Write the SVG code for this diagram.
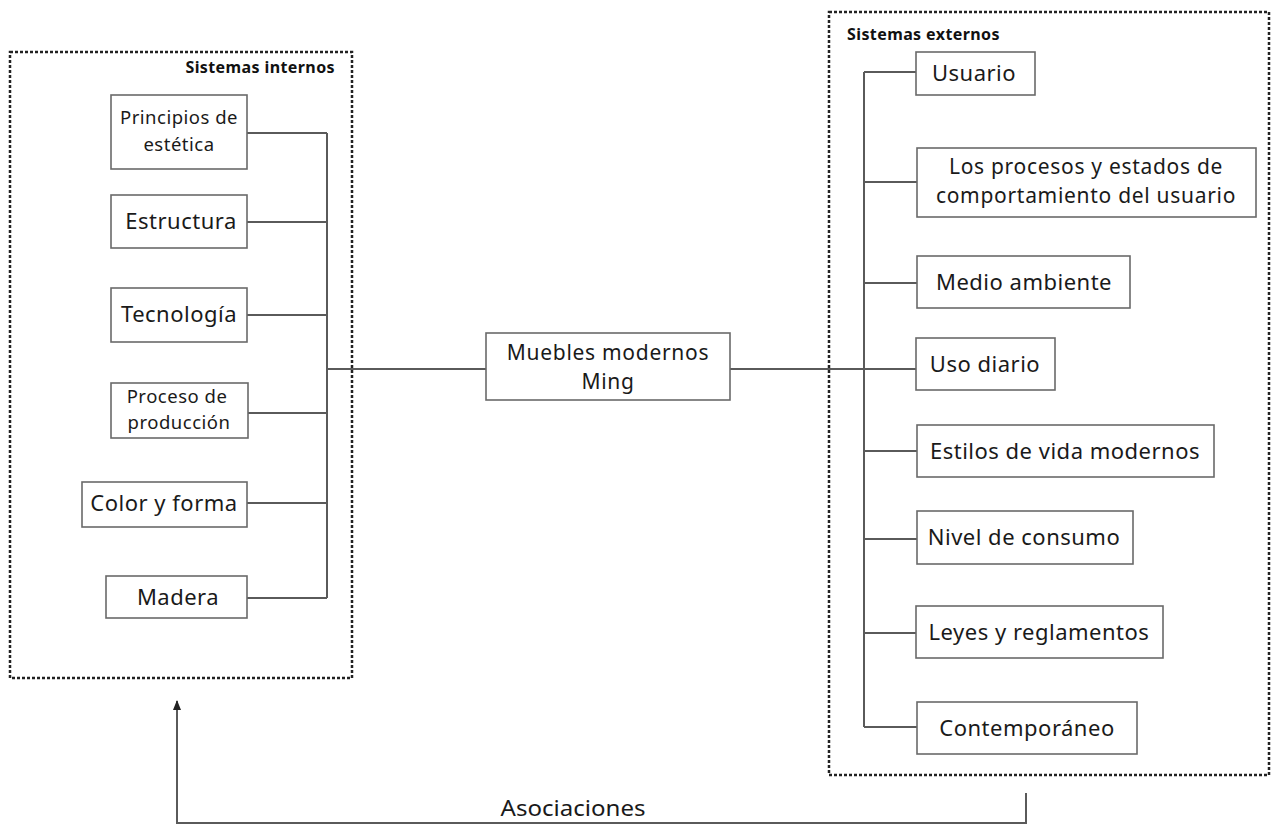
<svg xmlns="http://www.w3.org/2000/svg" width="1274" height="825" viewBox="0 0 1274 825">
<style>
.frame{fill:none;stroke:#222;stroke-width:2.5;stroke-dasharray:3 2}
.box{fill:#fff;stroke:#6a6a6a;stroke-width:1.6}
.ln{fill:none;stroke:#5a5a5a;stroke-width:2}
.t{font-family:"Noto Sans","Open Sans",sans-serif;font-size:22px;fill:#1a1a1a;text-anchor:middle;letter-spacing:0.5px}
.t2{font-family:"Noto Sans","Open Sans",sans-serif;font-size:21px;fill:#1a1a1a;text-anchor:middle;letter-spacing:0.7px}
.ts{font-family:"Noto Sans","Open Sans",sans-serif;font-size:18.5px;fill:#1a1a1a;text-anchor:middle;letter-spacing:0.5px}
.h{font-family:"Noto Sans","Open Sans",sans-serif;font-size:16px;font-weight:bold;fill:#111;letter-spacing:0.4px}
</style>
<defs>
<marker id="arr" viewBox="0 0 10 10" refX="9" refY="5" markerWidth="10" markerHeight="10" orient="auto" markerUnits="userSpaceOnUse">
<path d="M0,1 L10,5 L0,9 Z" fill="#222"/>
</marker>
</defs>
<rect width="1274" height="825" fill="#fff"/>

<g id="frames">
<rect class="frame" x="10" y="52" width="342" height="626"/>
<text class="h" x="335" y="73" text-anchor="end">Sistemas internos</text>
<rect class="frame" x="829" y="12" width="440" height="763"/>
<text class="h" x="847" y="40">Sistemas externos</text>
</g>

<g id="connectors">
<path class="ln" d="M247,133 H327 M247,222 H327 M247,315 H327 M248,413 H327 M247,503 H327 M247,598 H327 M327,133 V598"/>
<path class="ln" d="M327,369 H486 M730,369 H864"/>
<path class="ln" d="M864,72 V727 M864,72 H916 M864,182 H917 M864,283 H917 M864,369 H916 M864,451 H917 M864,539 H917 M864,633 H916 M864,727 H917"/>
<path class="ln" d="M1026,793 V823 H177 V701" stroke-width="1.6" marker-end="url(#arr)"/>
<text class="t" x="573" y="816" textLength="145" lengthAdjust="spacingAndGlyphs" style="letter-spacing:0">Asociaciones</text>
</g>

<g id="n-principios"><rect class="box" x="111" y="95" width="136" height="74"/><text class="ts" x="179" y="124">Principios de</text><text class="ts" x="179" y="151">estética</text></g>
<g id="n-estructura"><rect class="box" x="111" y="195" width="136" height="53"/><text class="t" x="181" y="229">Estructura</text></g>
<g id="n-tecnologia"><rect class="box" x="111" y="288" width="136" height="54"/><text class="t" x="179" y="322">Tecnología</text></g>
<g id="n-proceso"><rect class="box" x="111" y="383" width="137" height="55"/><text class="ts" x="177" y="403">Proceso de</text><text class="ts" x="179" y="429">producción</text></g>
<g id="n-color"><rect class="box" x="82" y="482" width="165" height="45"/><text class="t" x="164" y="511">Color y forma</text></g>
<g id="n-madera"><rect class="box" x="106" y="576" width="141" height="42"/><text class="t" x="178" y="605">Madera</text></g>

<g id="n-muebles"><rect class="box" x="486" y="333" width="244" height="67"/><text class="t2" x="608" y="360">Muebles modernos</text><text class="t2" x="608" y="389">Ming</text></g>

<g id="n-usuario"><rect class="box" x="916" y="52" width="119" height="43"/><text class="t" x="974" y="81">Usuario</text></g>
<g id="n-procesos"><rect class="box" x="917" y="148" width="339" height="69"/><text class="t2" x="1086" y="174">Los procesos y estados de</text><text class="t2" x="1086" y="203">comportamiento del usuario</text></g>
<g id="n-medio"><rect class="box" x="917" y="256" width="213" height="52"/><text class="t" x="1024" y="290">Medio ambiente</text></g>
<g id="n-uso"><rect class="box" x="916" y="338" width="139" height="52"/><text class="t" x="985" y="372">Uso diario</text></g>
<g id="n-estilos"><rect class="box" x="917" y="425" width="297" height="52"/><text class="t" x="1065" y="459">Estilos de vida modernos</text></g>
<g id="n-nivel"><rect class="box" x="917" y="511" width="216" height="53"/><text class="t" x="1024" y="545">Nivel de consumo</text></g>
<g id="n-leyes"><rect class="box" x="916" y="606" width="247" height="52"/><text class="t" x="1039" y="640">Leyes y reglamentos</text></g>
<g id="n-contemporaneo"><rect class="box" x="917" y="702" width="220" height="52"/><text class="t" x="1027" y="736">Contemporáneo</text></g>
</svg>
